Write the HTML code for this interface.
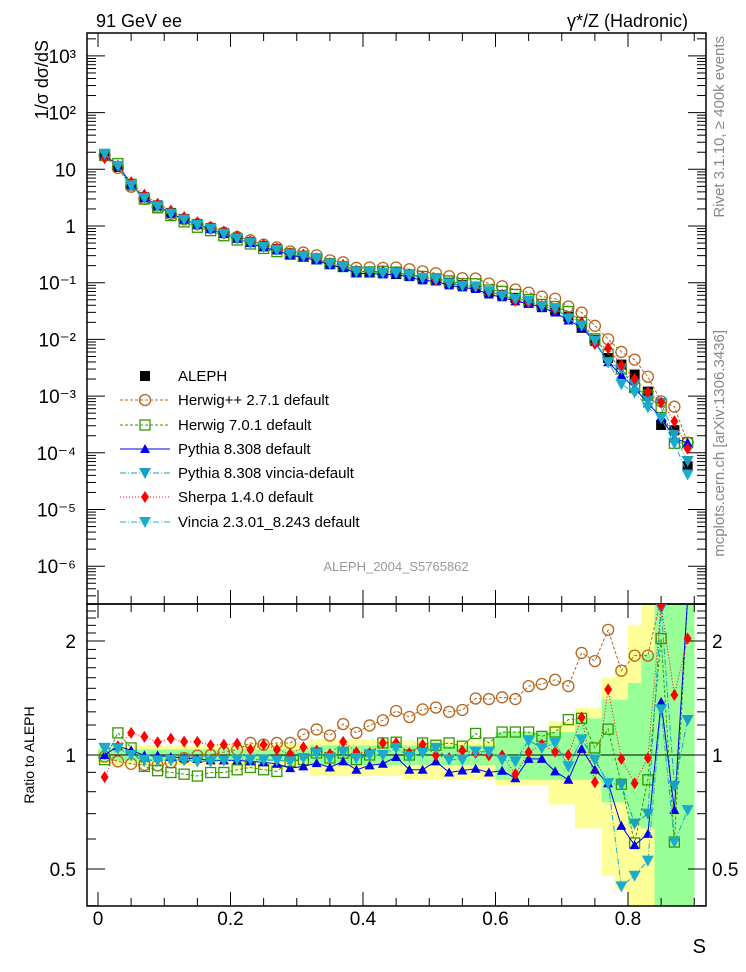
<!DOCTYPE html>
<html><head><meta charset="utf-8"><style>
body{margin:0;background:#fff;}
svg{display:block;font-family:"Liberation Sans",sans-serif;}
</style></head><body>
<svg id="chart" width="746" height="972" viewBox="0 0 746 972">
<defs>
<clipPath id="cm"><rect x="87" y="33" width="619" height="571"/></clipPath>
<clipPath id="cr"><rect x="87" y="604" width="619" height="302"/></clipPath>
</defs>
<text x="96" y="27" font-size="18">91 GeV ee</text>
<text x="688" y="27" font-size="18" text-anchor="end">γ*/Z (Hadronic)</text>
<text transform="translate(724,36) rotate(-90)" font-size="15" fill="#888" text-anchor="end">Rivet 3.1.10, ≥ 400k events</text>
<text transform="translate(724,330) rotate(-90)" font-size="15" fill="#888" text-anchor="end">mcplots.cern.ch [arXiv:1306.3436]</text>
<text x="396" y="571" font-size="13" fill="#999" text-anchor="middle">ALEPH_2004_S5765862</text>
<text transform="translate(48,40) rotate(-90)" font-size="18" text-anchor="end">1/σ  dσ/dS</text>
<text transform="translate(34,755) rotate(-90)" font-size="14" text-anchor="middle">Ratio to ALEPH</text>
<text x="706" y="953" font-size="20" text-anchor="end">S</text>
<g id="bands" clip-path="url(#cr)"></g>
<g id="axes"></g>
<g id="mainMarks" clip-path="url(#cm)"></g>
<g id="ratioMarks" clip-path="url(#cr)"></g>
<g id="legend"></g>
</svg>
<script>
const sVals=[];for(let i=0;i<45;i++)sVals.push(0.01+0.02*i);
const aleph=[18,11,5.2,3.2,2.3,1.7,1.33,1.08,0.92,0.75,0.62,0.52,0.44,0.39,0.33,0.30,0.26,0.22,0.19,0.16,0.155,0.148,0.142,0.137,0.12,0.11,0.10,0.091,0.084,0.069,0.061,0.054,0.044,0.037,0.033,0.025,0.016,0.0098,0.0047,0.0036,0.0024,0.0012,0.00031,0.00025,0.000058];
const rHerwigpp=[0.99,0.962,0.948,0.942,0.939,0.956,0.982,0.996,1.0,1.018,1.033,1.076,1.065,1.076,1.076,1.133,1.168,1.126,1.207,1.144,1.197,1.235,1.307,1.26,1.32,1.335,1.30,1.315,1.41,1.405,1.42,1.405,1.52,1.54,1.58,1.52,1.86,1.77,2.14,1.67,1.83,1.83,2.6,2.6,2.6];
const rHerwig7=[0.972,1.144,1.044,0.933,0.909,0.899,0.89,0.88,0.899,0.899,0.914,0.927,0.914,0.905,0.962,0.972,1.012,0.982,1.012,0.972,1.0,1.076,1.081,1.0,1.076,1.061,1.076,1.055,1.14,1.076,1.15,1.15,1.15,1.12,1.15,1.24,1.25,1.044,1.17,0.837,0.586,0.86,2.03,0.589,2.6];
const rPythia=[1.0,1.055,1.029,0.998,0.998,0.988,0.982,0.976,0.968,0.968,0.968,0.962,0.956,0.948,0.923,0.933,0.952,0.927,0.962,0.914,0.939,0.948,0.988,0.914,0.914,0.962,0.899,0.91,0.92,0.899,0.909,0.868,0.977,0.977,0.905,0.86,1.038,0.914,0.842,0.65,0.578,0.619,1.38,0.716,2.6];
const rVinciaDef=[1.044,1.044,1.0,0.972,0.968,0.968,0.968,0.962,0.962,0.968,0.972,0.972,0.972,0.968,0.962,0.982,1.012,0.982,1.02,0.982,1.0,1.0,1.044,0.991,1.012,1.044,0.972,0.972,1.02,1.02,0.972,0.962,1.094,1.044,1.076,0.933,1.099,0.972,0.842,0.835,0.659,0.7,2.44,0.829,1.237];
const rSherpa=[0.874,1.055,1.144,1.117,1.081,1.105,1.085,1.083,1.061,1.065,1.072,1.033,1.065,1.033,1.006,1.048,1.027,1.006,1.083,1.018,1.012,1.076,1.076,1.012,1.065,0.998,0.982,1.027,1.012,0.998,0.998,0.89,1.018,1.065,1.02,1.0,1.257,0.847,1.49,0.976,0.842,0.982,2.49,1.44,2.03];
const rVincia=[1.04,1.04,1.0,0.97,0.965,0.97,0.968,0.962,0.962,0.968,0.972,0.972,0.97,0.968,0.962,0.982,1.01,0.982,1.02,0.982,1.0,1.0,1.044,0.991,1.012,1.044,0.972,0.972,1.02,1.02,0.972,0.962,1.09,1.044,1.076,0.933,1.1,0.972,0.842,0.45,0.48,0.526,1.32,0.589,0.715];
const yellowUp=[1.05,1.06,1.06,1.06,1.06,1.06,1.06,1.06,1.06,1.06,1.07,1.07,1.07,1.07,1.07,1.07,1.10,1.10,1.10,1.10,1.10,1.10,1.10,1.09,1.09,1.09,1.09,1.09,1.09,1.09,1.10,1.10,1.10,1.10,1.23,1.23,1.33,1.33,1.6,1.7,2.2,2.6,2.6,2.6,2.6];
const yellowDn=[0.95,0.94,0.94,0.94,0.94,0.94,0.94,0.94,0.94,0.94,0.92,0.92,0.92,0.92,0.92,0.92,0.88,0.88,0.88,0.88,0.88,0.88,0.88,0.86,0.86,0.86,0.86,0.86,0.86,0.86,0.83,0.83,0.83,0.83,0.74,0.74,0.64,0.64,0.48,0.44,0.4,0.38,0.38,0.38,0.38];
const greenUp=[1.035,1.035,1.035,1.035,1.035,1.035,1.035,1.035,1.035,1.035,1.035,1.035,1.035,1.035,1.035,1.035,1.06,1.06,1.06,1.06,1.06,1.06,1.06,1.06,1.06,1.06,1.06,1.06,1.06,1.06,1.15,1.15,1.15,1.15,1.15,1.15,1.25,1.25,1.4,1.4,1.55,1.85,2.6,2.6,2.6];
const greenDn=[0.965,0.965,0.965,0.965,0.965,0.965,0.965,0.965,0.965,0.965,0.965,0.965,0.965,0.965,0.965,0.965,0.94,0.94,0.94,0.94,0.94,0.94,0.94,0.94,0.94,0.94,0.94,0.94,0.94,0.94,0.86,0.86,0.86,0.86,0.86,0.86,0.86,0.86,0.75,0.75,0.65,0.64,0.38,0.38,0.38];
const xTicks=[0,0.2,0.4,0.6,0.8];
const xTickLabels=["0","0.2","0.4","0.6","0.8"];
const yDecades=[-6,-5,-4,-3,-2,-1,0,1,2,3];
const yDecadeLabels=["10⁻⁶","10⁻⁵","10⁻⁴","10⁻³","10⁻²","10⁻¹","1","10","10²","10³"];
const rTicks=[0.5,1,2];
const rTickLabels=["0.5","1","2"];

const NS="http://www.w3.org/2000/svg";
const X=s=>98+662.5*s;
const Y=v=>226-56.7*Math.log10(v);
const R=r=>755-114*Math.log2(r);
function mk(tag,attrs,parent){const e=document.createElementNS(NS,tag);for(const k in attrs)e.setAttribute(k,attrs[k]);parent.appendChild(e);return e;}
const axes=document.getElementById('axes'),bands=document.getElementById('bands'),mm=document.getElementById('mainMarks'),rm=document.getElementById('ratioMarks'),lg=document.getElementById('legend');

// bands
function band(up,dn,color,name){
  for(let i=0;i<sVals.length;i++){
    const x0=X(sVals[i]-0.01),x1=X(sVals[i]+0.01);
    const r=mk('rect',{x:x0,y:R(up[i]),width:x1-x0+0.3,height:R(dn[i])-R(up[i]),fill:color},bands);
    
    
  }
}
band(yellowUp,yellowDn,'#ffff99','uncertainty-band-total');
band(greenUp,greenDn,'#99ff99','uncertainty-band-stat');

// frames
const f1=mk('rect',{x:87,y:33,width:619,height:571,fill:'none',stroke:'#000','stroke-width':1.5},axes);

const f2=mk('rect',{x:87,y:604,width:619,height:302,fill:'none',stroke:'#000','stroke-width':1.5},axes);

const one=mk('line',{x1:87,x2:706,y1:R(1),y2:R(1),stroke:'#000','stroke-width':1},axes);


// x ticks
for(let v=0;v<=0.9001;v+=0.05){
  const major=Math.abs(v/0.2-Math.round(v/0.2))<1e-6;const L=major?14:8;const x=X(v);
  [[33,1],[604,-1],[604,1],[906,-1]].forEach(([y,d])=>mk('line',{x1:x,x2:x,y1:y,y2:y+d*L,stroke:'#000'},axes));
}
xTicks.forEach((v,i)=>{const t=mk('text',{x:X(v),y:925,'font-size':19,'text-anchor':'middle'},axes);t.textContent=xTickLabels[i];
});
// main y ticks
for(let d=-7;d<=3;d++){for(let m=1;m<10;m++){const v=m*Math.pow(10,d);const y=Y(v);if(y<33||y>604)continue;const L=m==1?18:9;
  mk('line',{x1:87,x2:87+L,y1:y,y2:y,stroke:'#000'},axes);mk('line',{x1:706,x2:706-L,y1:y,y2:y,stroke:'#000'},axes);}}
yDecades.forEach((d,i)=>{const t=mk('text',{x:76,y:Y(Math.pow(10,d))+7,'font-size':19,'text-anchor':'end'},axes);t.textContent=yDecadeLabels[i];
});
// ratio ticks
for(let v=0.4;v<=2.51;v+=0.1){const y=R(v);if(y<604||y>906)continue;const major=[0.5,1,2].some(q=>Math.abs(q-v)<1e-6);const L=major?18:9;
  mk('line',{x1:87,x2:87+L,y1:y,y2:y,stroke:'#000'},axes);mk('line',{x1:706,x2:706-L,y1:y,y2:y,stroke:'#000'},axes);}
rTicks.forEach((v,i)=>{[[76,'end'],[712,'start']].forEach(([x,a])=>{const t=mk('text',{x:x,y:R(v)+7,'font-size':19,'text-anchor':a},axes);t.textContent=rTickLabels[i];
});});

// markers
function marker(type,x,y,color,parent){
  let e;
  if(type==='sq')e=mk('rect',{x:x-5,y:y-5,width:10,height:10,fill:color},parent);
  else if(type==='osq')e=mk('rect',{x:x-5,y:y-5,width:10,height:10,fill:'#fff','fill-opacity':0,stroke:color,'stroke-width':1.3},parent);
  else if(type==='oc')e=mk('circle',{cx:x,cy:y,r:5.5,fill:'none',stroke:color,'stroke-width':1.3},parent);
  else if(type==='tu')e=mk('polygon',{points:`${x},${y-5} ${x+5},${y+4} ${x-5},${y+4}`,fill:color},parent);
  else if(type==='td')e=mk('polygon',{points:`${x-6},${y-5} ${x+6},${y-5} ${x},${y+6}`,fill:color},parent);
  else if(type==='dia')e=mk('polygon',{points:`${x},${y-6} ${x+4},${y} ${x},${y+6} ${x-4},${y}`,fill:color},parent);
  return e;
}
const series=[
 {name:'herwigpp',r:rHerwigpp,color:'#b5651d',type:'oc',dash:'3,2',label:'Herwig++ 2.7.1 default'},
 {name:'herwig7',r:rHerwig7,color:'#339900',type:'osq',dash:'3,2',label:'Herwig 7.0.1 default'},
 {name:'pythia',r:rPythia,color:'#0000ee',type:'tu',dash:'',label:'Pythia 8.308 default'},
 {name:'pythia-vincia',r:rVinciaDef,color:'#1a9fc0',type:'td',dash:'6,2,1,2',label:'Pythia 8.308 vincia-default'},
 {name:'sherpa',r:rSherpa,color:'#ff0000',type:'dia',dash:'1,2',label:'Sherpa 1.4.0 default'},
 {name:'vincia',r:rVincia,color:'#1aaccc',type:'td',dash:'6,2,1,2',label:'Vincia 2.3.01_8.243 default'}
];
// ALEPH in main
sVals.forEach((s,i)=>{const e=marker('sq',X(s),Y(aleph[i]),'#000',mm);
  });
series.forEach(S=>{
  const mp=sVals.map((s,i)=>[X(s),Y(aleph[i]*S.r[i])]);
  const rp=sVals.map((s,i)=>[X(s),R(S.r[i])]);
  const l1=mk('polyline',{points:mp.map(p=>p.join(',')).join(' '),fill:'none',stroke:S.color,'stroke-width':1,'stroke-dasharray':S.dash},mm);
  
  const l2=mk('polyline',{points:rp.map(p=>p.join(',')).join(' '),fill:'none',stroke:S.color,'stroke-width':1,'stroke-dasharray':S.dash},rm);
  
  mp.forEach(p=>{const e=marker(S.type,p[0],p[1],S.color,mm);});
  rp.forEach(p=>{const e=marker(S.type,p[0],p[1],S.color,rm);});
});
// legend
const ly=[376,400,425,449,473,497,522];
const ent=[{type:'sq',color:'#000',dash:null,label:'ALEPH'}].concat(series);
ent.forEach((E,i)=>{const y=ly[i];
  const g=mk('g',{},lg);
  if(E.dash!==null)mk('line',{x1:120,x2:170,y1:y,y2:y,stroke:E.color,'stroke-dasharray':E.dash},g);
  marker(E.type,145,y,E.color,g);
  const t=mk('text',{x:178,y:y+5,'font-size':15},g);t.textContent=E.label;});
</script>
</body></html>
